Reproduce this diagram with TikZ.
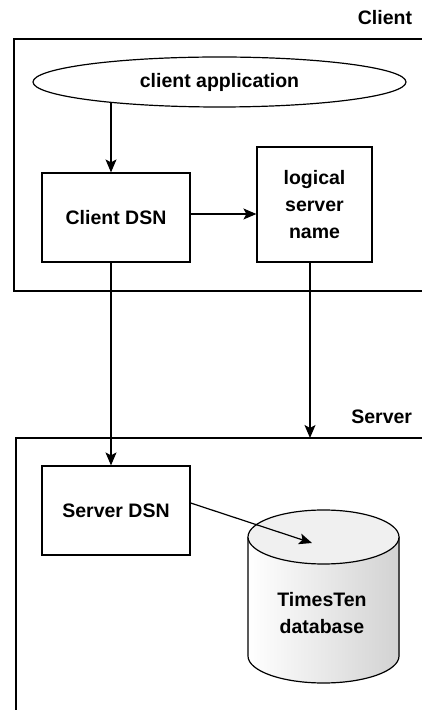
\documentclass[tikz,border=0pt]{standalone}
\usepackage{fontspec}
\setmainfont{Liberation Sans}
\usetikzlibrary{shapes.geometric,arrows.meta}

\begin{document}
\begin{tikzpicture}[
        x=1pt,y=1pt,
        line width=1.2pt,
        every node/.style={font=\fontsize{19.5}{27}\selectfont\bfseries},
        box/.style={rectangle,draw,minimum width=148pt,minimum height=89pt,align=center,inner sep=0pt},
        arr/.style={-{Stealth[length=13pt,width=11pt,inset=3pt]}}
    ]
        \useasboundingbox (0,0) rectangle (422,710);

        % client side
        \draw (422,671) -- (14,671) -- (14,419) -- (422,419);
        \node[anchor=east] (clientlbl) at (416,692) {Client};
        \node[ellipse,draw,minimum width=373pt,minimum height=50pt,inner sep=0pt] (app) at (219.5,628) {client application};
        \node[box] (cdsn) at (116,492.5) {Client DSN};
        \node[box,minimum width=115pt,minimum height=115pt] (lsn) at (314.5,505.5) {logical\\server\\name};

        % server side
        \draw (422,272) -- (16,272) -- (16,0);
        \node[anchor=east] (serverlbl) at (416,293) {Server};
        \coordinate (srvtop) at (310,272);
        \node[box] (sdsn) at (116,199.5) {Server DSN};

        % database
        \fill[left color=white,right color=gray!35] (248,173) -- (248,54) arc (180:360:75.5pt and 27pt) -- (399,173) -- cycle;
        \draw (248,173) -- (248,54) arc (180:360:75.5pt and 27pt) -- (399,173);
        \filldraw[fill=gray!12] (323.5,173) ellipse (75.5pt and 27pt);
        \node[align=center] (db) at (322,97) {TimesTen\\database};
        \coordinate (dbtop) at (312,167);

        % connectors
        \coordinate (cdsnin) at ([xshift=-5pt]cdsn.north);
        \coordinate (cdsnout) at ([yshift=3.5pt]cdsn.east);
        \coordinate (lsnout) at ([xshift=-4.5pt]lsn.south);
        \draw[arr] (app.190.6 -| cdsnin) -- (cdsnin);
        \draw[arr] (cdsnout) -- (cdsnout -| lsn.west);
        \draw[arr] (cdsnin |- cdsn.south) -- (cdsnin |- sdsn.north);
        \draw[arr] (lsnout) -- (srvtop);
        \draw[arr] ([yshift=7.5pt]sdsn.east) -- (dbtop);
\end{tikzpicture}
\end{document}
